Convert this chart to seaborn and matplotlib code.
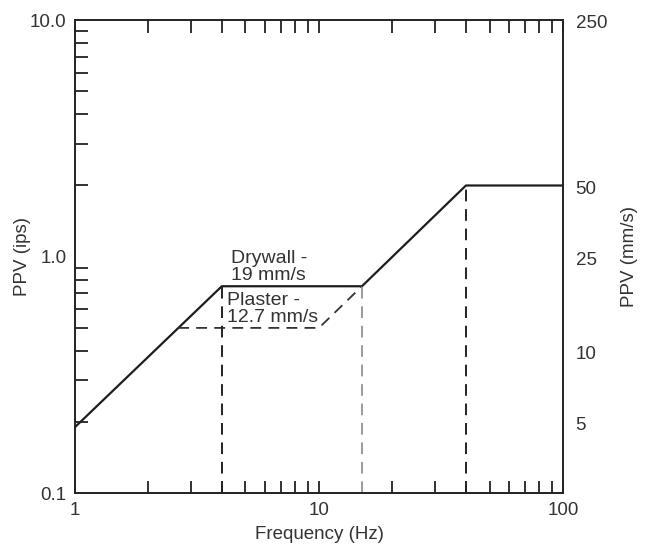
import matplotlib
matplotlib.use("Agg")
import matplotlib.pyplot as plt
import matplotlib.ticker as mticker
import seaborn as sns
import pandas as pd

# Drywall limit (solid) and plaster limit (dashed), PPV in ips
drywall_freq = [1, 4, 15, 40, 100]
drywall_ppv = [0.19, 0.75, 0.75, 2.0, 2.0]
plaster_freq = [2.65, 10, 15]
plaster_ppv = [0.5, 0.5, 0.75]

# vertical dashed drop lines at the break frequencies
drop_freq = [4, 15, 40]
drop_top = [0.75, 0.75, 2.0]
drop_color = ["#222222", "#9a9a9a", "#222222"]

left_ticks = [0.1, 1.0, 10.0]
left_labels = ["0.1", "1.0", "10.0"]
right_ticks = [5, 10, 25, 50, 250]
right_labels = ["5", "10", "25", "50", "250"]
x_ticks = [1, 10, 100]
x_labels = ["1", "10", "100"]

sns.set_style("ticks")
plt.rcParams["font.family"] = ["Liberation Sans", "DejaVu Sans"]
txt = "#333333"
fs = 13.5

fig = plt.figure(figsize=(6.45, 5.45), dpi=100)
ax = fig.add_axes([0.116, 0.095, 0.757, 0.868])

df_dry = pd.DataFrame({"f": drywall_freq, "v": drywall_ppv})
df_pla = pd.DataFrame({"f": plaster_freq, "v": plaster_ppv})
sns.lineplot(data=df_dry, x="f", y="v", ax=ax, color="#1e1e1e", lw=1.6,
             estimator=None, sort=False)
sns.lineplot(data=df_pla, x="f", y="v", ax=ax, color="#333333", lw=1.3,
             estimator=None, sort=False, dashes=False)
ax.lines[-1].set_dashes([6, 4])

for f, top, c in zip(drop_freq, drop_top, drop_color):
    ax.vlines(f, 0.1, top, colors=c, lw=1.4, linestyles=(0, (6, 4)))

ax.set_xscale("log")
ax.set_yscale("log")
ax.set_xlim(1, 100)
ax.set_ylim(0.1, 10)

ax.set_xticks(x_ticks)
ax.set_xticklabels(x_labels)
ax.set_yticks(left_ticks)
ax.set_yticklabels(left_labels)
ax.xaxis.set_minor_locator(mticker.LogLocator(base=10, subs=range(2, 10)))
ax.yaxis.set_minor_locator(mticker.LogLocator(base=10, subs=range(2, 10)))
ax.xaxis.set_minor_formatter(mticker.NullFormatter())
ax.yaxis.set_minor_formatter(mticker.NullFormatter())
ax.tick_params(which="both", direction="in", top=True, right=True,
               length=9, width=1.3, color="#222222", labelsize=fs,
               labelcolor=txt, pad=6)
ax.tick_params(axis="y", which="major", length=0)

for s in ax.spines.values():
    s.set_visible(True)
    s.set_linewidth(1.4)
    s.set_color("#222222")

ax.set_xlabel("Frequency (Hz)", fontsize=fs, color=txt, labelpad=5)
ax.set_ylabel("PPV (ips)", fontsize=fs, color=txt, labelpad=-1)

ax2 = ax.twinx()
ax2.set_yscale("log")
ax2.set_ylim(0.1 * 25.4, 10 * 25.4)
ax2.set_yticks(right_ticks)
ax2.set_yticklabels(right_labels)
ax2.yaxis.set_minor_locator(mticker.NullLocator())
ax2.tick_params(axis="y", length=0, labelsize=fs, labelcolor=txt, pad=9)
for s in ax2.spines.values():
    s.set_visible(False)
ax2.set_ylabel("PPV (mm/s)", fontsize=fs, color=txt, labelpad=10)

ax.text(4.35, 0.905, "Drywall -\n19 mm/s", fontsize=14, color=txt,
        va="center", ha="left", linespacing=1.05)
ax.text(4.2, 0.6, "Plaster -\n12.7 mm/s", fontsize=14, color=txt,
        va="center", ha="left", linespacing=1.05)

fig.savefig("out.png", dpi=100)
